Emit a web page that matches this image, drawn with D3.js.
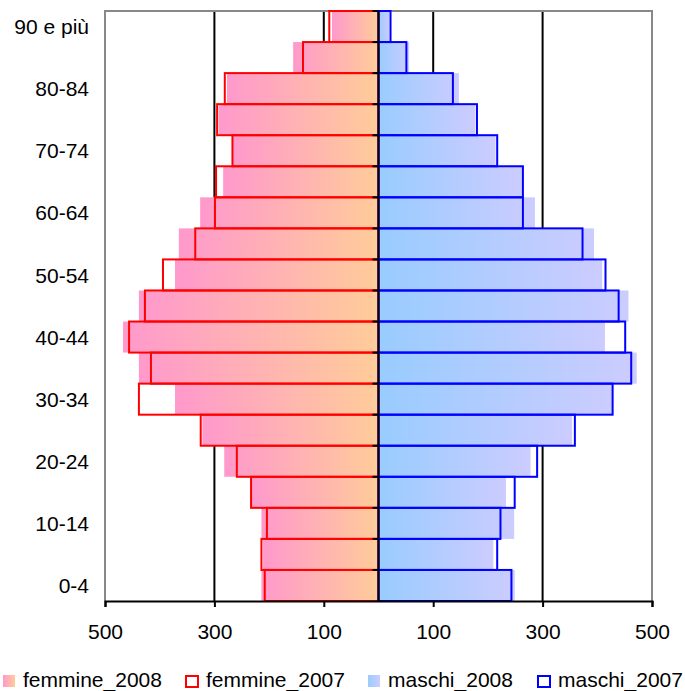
<!DOCTYPE html>
<html>
<head>
<meta charset="utf-8">
<script src="https://cdn.jsdelivr.net/npm/d3@7"></script>
<style>
  body { margin: 0; background: #fff; }
  text { font-family: "Liberation Sans", Arial, sans-serif; }
</style>
</head>
<body>
<div id="chart"></div>
<script>
// Age classes, bottom to top
const ages = ["0-4", "5-9", "10-14", "15-19", "20-24", "25-29", "30-34", "35-39", "40-44", "45-49",
    "50-54", "55-59", "60-64", "65-69", "70-74", "75-79", "80-84", "85-89", "90 e più"];
const femmine2008 = [214, 211, 214, 232, 282, 322, 372, 438, 467, 438, 372, 365, 326, 284, 266, 292, 277, 156, 85];
const femmine2007 = [208, 214, 204, 233, 259, 325, 438, 416, 456, 427, 394, 335, 299, 297, 267, 295, 281, 138, 90];
const maschi2008 = [249, 210, 248, 233, 278, 354, 427, 472, 414, 457, 409, 394, 286, 263, 214, 177, 147, 56, 20];
const maschi2007 = [243, 217, 223, 249, 290, 359, 428, 462, 451, 439, 415, 373, 264, 264, 217, 180, 136, 51, 22];
const xTicks = [-500, -300, -100, 100, 300, 500];
const gridValues = [-300, -100, 100, 300];
const legendNames = ["femmine_2008", "femmine_2007", "maschi_2008", "maschi_2007"];

const width = 685;
const height = 691;
const fontSize = "21px";

const svg = d3.select("#chart")
    .append("svg")
    .attr("width", width)
    .attr("height", height);

// gradients
const defs = svg.append("defs");
function gradient(id, c1, c2) {
    const g = defs.append("linearGradient").attr("id", id)
        .attr("x1", 0).attr("x2", 1).attr("y1", 0).attr("y2", 0);
    g.append("stop").attr("offset", 0).attr("stop-color", c1);
    g.append("stop").attr("offset", 1).attr("stop-color", c2);
}
gradient("gradF", "#ff99cc", "#ffcc99");
gradient("gradM", "#99ccff", "#ccccff");

// scales
const x = d3.scaleLinear().domain([-500, 500]).range([105, 652]);
const y = d3.scaleBand().domain(ages).range([601, 11]).padding(0);

// gridlines
svg.append("g")
    .selectAll("line")
    .data(gridValues)
    .join("line")
    .attr("x1", d => x(d)).attr("x2", d => x(d))
    .attr("y1", 11).attr("y2", 601)
    .attr("stroke", "#000").attr("stroke-width", 2);

// plot border (grey)
svg.append("path")
    .attr("d", `M${x(-500)},601V11H${x(500)}V601`)
    .attr("fill", "none").attr("stroke", "#888").attr("stroke-width", 2);

// 2008 filled bars
svg.append("g")
    .selectAll("rect")
    .data(ages)
    .join("rect")
    .attr("x", (d, i) => x(-femmine2008[i]))
    .attr("y", d => y(d))
    .attr("width", (d, i) => x(0) - x(-femmine2008[i]))
    .attr("height", y.bandwidth())
    .attr("fill", "url(#gradF)");

svg.append("g")
    .selectAll("rect")
    .data(ages)
    .join("rect")
    .attr("x", x(0))
    .attr("y", d => y(d))
    .attr("width", (d, i) => x(maschi2008[i]) - x(0))
    .attr("height", y.bandwidth())
    .attr("fill", "url(#gradM)");

// 2007 outline bars
svg.append("g")
    .selectAll("rect")
    .data(ages)
    .join("rect")
    .attr("x", (d, i) => x(-femmine2007[i]))
    .attr("y", d => y(d))
    .attr("width", (d, i) => x(0) - x(-femmine2007[i]))
    .attr("height", y.bandwidth())
    .attr("fill", "none")
    .attr("stroke", "#ff0000")
    .attr("stroke-width", 2);

svg.append("g")
    .selectAll("rect")
    .data(ages)
    .join("rect")
    .attr("x", x(0))
    .attr("y", d => y(d))
    .attr("width", (d, i) => x(maschi2007[i]) - x(0))
    .attr("height", y.bandwidth())
    .attr("fill", "none")
    .attr("stroke", "#0000ff")
    .attr("stroke-width", 2);

// central axis with ticks on the category boundaries
svg.append("line")
    .attr("x1", x(0)).attr("x2", x(0))
    .attr("y1", 11).attr("y2", 601)
    .attr("stroke", "#000").attr("stroke-width", 2);

svg.append("g")
    .selectAll("line")
    .data(ages)
    .join("line")
    .attr("x1", x(0) - 6).attr("x2", x(0))
    .attr("y1", d => y(d)).attr("y2", d => y(d))
    .attr("stroke", "#000").attr("stroke-width", 2);

// age labels (every other class)
svg.append("g")
    .selectAll("text")
    .data(ages.filter((d, i) => i % 2 === 0))
    .join("text")
    .attr("x", 89)
    .attr("y", d => y(d) + y.bandwidth() / 2)
    .attr("dy", "0.36em")
    .attr("text-anchor", "end")
    .style("font-size", fontSize)
    .text(d => d);

// bottom axis
const xAxis = svg.append("g")
    .attr("transform", "translate(0,601)")
    .call(d3.axisBottom(x).tickValues(xTicks).tickSize(6).tickPadding(17)
        .tickFormat(d => Math.abs(d)));
xAxis.select(".domain").attr("stroke", "#000").attr("stroke-width", 2);
xAxis.selectAll(".tick line").attr("stroke", "#000").attr("stroke-width", 2);
xAxis.selectAll(".tick text")
    .attr("fill", "#000")
    .style("font-family", "'Liberation Sans', Arial, sans-serif")
    .style("font-size", fontSize);

// legend
const legendX = [3, 185, 368, 537];
const legend = svg.append("g")
    .selectAll("g")
    .data(legendNames)
    .join("g")
    .attr("transform", (d, i) => `translate(${legendX[i]},675)`);

legend.append("rect")
    .attr("x", (d, i) => i % 2 === 0 ? 0 : 1)
    .attr("y", (d, i) => i % 2 === 0 ? 0 : 1)
    .attr("width", 12)
    .attr("height", (d, i) => i % 2 === 0 ? 12 : 11)
    .attr("fill", (d, i) => ["url(#gradF)", "none", "url(#gradM)", "none"][i])
    .attr("stroke", (d, i) => ["none", "#ff0000", "none", "#0000ff"][i])
    .attr("stroke-width", 2);

legend.append("text")
    .attr("x", (d, i) => i % 2 === 0 ? 20 : 21)
    .attr("y", 12)
    .style("font-size", fontSize)
    .text(d => d);
</script>
</body>
</html>
